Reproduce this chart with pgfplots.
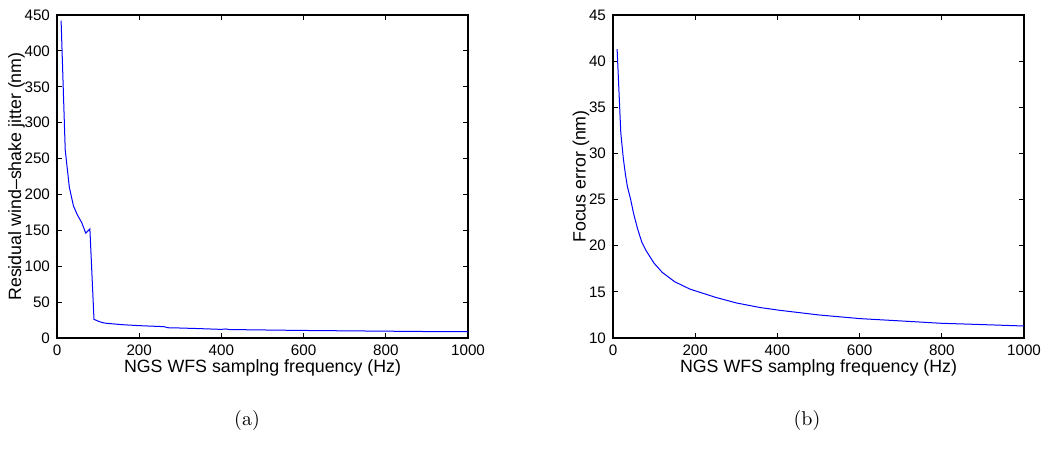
\documentclass[border=0pt]{standalone}
\usepackage{pgfplots}
\pgfplotsset{compat=1.18}
\usepackage{fontspec}
\newfontfamily\plotfont{Liberation Sans}

% 1 px of the reference = 0.5pt
\pgfplotsset{
  mlab/.style={
    scale only axis,
    width=205.5pt, height=161.5pt,
    xmin=0, xmax=1000,
    xtick={0,200,...,1000},
    tick align=inside,
    major tick length=2.5pt,
    axis line style={line width=0.7pt},
    every tick/.style={black, line width=0.5pt},
    tick label style={font=\plotfont\fontsize{7.6}{8}\selectfont},
    label style={font=\plotfont\fontsize{8.9}{10}\selectfont},
    /pgf/number format/assume math mode=true,
    /pgf/number format/1000 sep={},
    scaled ticks=false,
    xlabel={NGS WFS samplng frequency (Hz)},
    xlabel style={yshift=5pt},
    ylabel style={yshift=-7pt},
    anchor=south west,
  },
}

\begin{document}
\begin{tikzpicture}
\path[use as bounding box] (0,0) rectangle (521pt,224.5pt);

% (a) residual jitter
\begin{axis}[mlab,
    at={(28.5pt,55.5pt)},
    ymin=0, ymax=450,
    ytick={0,50,...,450},
    ylabel={Residual wind–shake jitter (nm)},
  ]
  \addplot[blue, line width=0.5pt] coordinates {
    (10,442) (20,262) (30,210) (40,184) (50,171) (60,161) (70,146)
    (80,152) (90,26) (100,23.5) (110,21.5) (120,20.5) (140,19.5)
    (160,18.5) (200,17.2) (260,15.8) (270,14.3) (300,13.9) (350,13)
    (400,12) (410,12.6) (420,11.8) (500,11.2) (600,10.5) (700,10)
    (800,9.5) (900,9) (1000,8.7)
  };
\end{axis}

% (b) focus error
\begin{axis}[mlab,
    at={(306.5pt,55.5pt)},
    ymin=10, ymax=45,
    ytick={10,15,...,45},
    ylabel={Focus error (nm)},
  ]
  \addplot[blue, line width=0.5pt] coordinates {
    (10,41.3) (19,32.2) (25,29.5) (30,27.8) (35,26.4) (43,25) (50,23.5)
    (60,21.8) (70,20.4) (80,19.5) (100,18.1) (120,17.1) (150,16.1)
    (187,15.3) (250,14.4) (300,13.8) (358,13.3) (406,13.0) (500,12.5)
    (601,12.1) (700,11.85) (796,11.6) (900,11.45) (1000,11.3)
  };
\end{axis}

\node[font=\fontsize{10}{12}\selectfont] at (123.5pt,14.5pt) {(a)};
\node[font=\fontsize{10}{12}\selectfont] at (403.5pt,14.5pt) {(b)};
\end{tikzpicture}
\end{document}
